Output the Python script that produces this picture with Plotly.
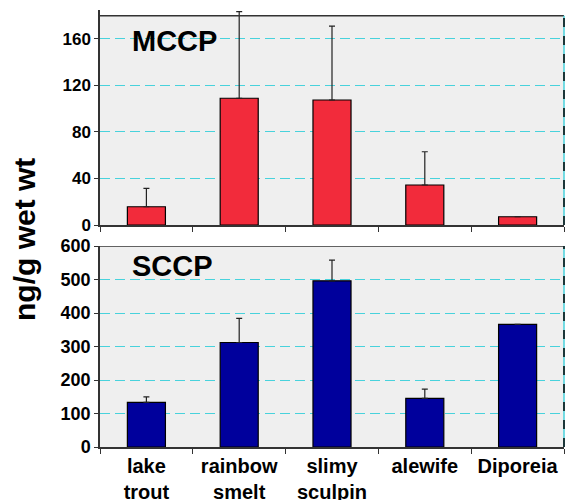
import plotly.graph_objects as go

categories = ["lake<br>trout", "rainbow<br>smelt", "slimy<br>sculpin", "alewife", "Diporeia"]
mccp_values = [15.7, 109, 107.5, 34.4, 7.1]
mccp_errors = [15.8, 74.5, 63.5, 28.6, 0]
sccp_values = [133, 312, 496, 145, 366]
sccp_errors = [16.5, 72, 62, 28, 0]
mccp_ticks = [0, 40, 80, 120, 160]
sccp_ticks = [0, 100, 200, 300, 400, 500, 600]

OFF = 8  # default page body margin
W, H = 579 - OFF, 500 - OFF
FONT = "Arial, Liberation Sans, sans-serif"

def px(v):
    return (v - OFF) / W

def py(v):
    return 1 - (v - OFF) / H

fig = go.Figure()

def bar(vals, errs, color, xa, ya):
    return go.Bar(
        x=categories, y=vals, xaxis=xa, yaxis=ya,
        marker=dict(color=color, line=dict(color="black", width=1.2)),
        width=0.41, cliponaxis=False,
        error_y=dict(type="data", array=errs, arrayminus=[0] * len(errs),
                     symmetric=False, visible=True, color="#222222",
                     thickness=1.2, width=3),
        showlegend=False, hoverinfo="skip",
    )

fig.add_trace(bar(mccp_values, mccp_errors, "#F22B3B", "x", "y"))
fig.add_trace(bar(sccp_values, sccp_errors, "#00009C", "x2", "y2"))

x0, x1 = px(100), px(564)
top_dom = [py(225), py(9.9)]
bot_dom = [py(447), py(246)]
GRID = "#48d2dc"
LINE = "#333333"

xcommon = dict(
    domain=[x0, x1], type="category", tickson="boundaries", ticks="outside",
    ticklen=5, tickcolor=LINE, showline=True, linecolor=LINE, linewidth=1.5,
    showgrid=False, automargin=False, fixedrange=True,
    tickfont=dict(family=FONT, size=20, color="black", weight="bold"),
)
ycommon = dict(
    ticks="outside", ticklen=4, tickcolor=LINE, showline=True,
    linecolor=LINE, linewidth=1.5, showgrid=True, gridcolor=GRID,
    griddash="10px,5px", gridwidth=1.3, zeroline=False, automargin=False,
    fixedrange=True,
)

fig.update_layout(
    width=W, height=H, template="none",
    margin=dict(l=0, r=0, t=0, b=0),
    paper_bgcolor="white", plot_bgcolor="white",
    bargap=0.59,
    xaxis=dict(xcommon, anchor="y", showticklabels=False),
    yaxis=dict(ycommon, domain=top_dom, anchor="x", range=[0, 185],
               tickvals=mccp_ticks,
               tickfont=dict(family=FONT, size=17, color="black", weight="bold")),
    xaxis2=dict(xcommon, anchor="y2", showticklabels=True),
    yaxis2=dict(ycommon, domain=bot_dom, anchor="x2", range=[0, 600],
                tickvals=sccp_ticks,
                tickfont=dict(family=FONT, size=18, color="black", weight="bold")),
)

# panel backgrounds and borders
panels = [("x", "y", 180), ("x2", "y2", 600)]
for xa, ya, top in panels:
    fig.add_shape(type="rect", xref=f"{xa} domain", yref=ya, x0=0, x1=1, y0=0, y1=top,
                  fillcolor="#EFEFEF", line=dict(width=0), layer="below")
    fig.add_shape(type="line", xref=f"{xa} domain", yref=ya, x0=0, x1=1, y0=top, y1=top,
                  line=dict(color=LINE, width=1.5))
    fig.add_shape(type="line", xref=f"{xa} domain", yref=ya, x0=1, x1=1, y0=0, y1=top,
                  line=dict(color=GRID, width=1.5))
    fig.add_shape(type="line", xref=f"{xa} domain", yref=ya, x0=1, x1=1, y0=0, y1=top,
                  line=dict(color="black", width=1.5, dash="dash"))

fig.add_annotation(text="MCCP", xref="paper", yref="paper", x=px(130), y=py(41),
                   xanchor="left", yanchor="middle", showarrow=False,
                   font=dict(family=FONT, size=29, color="black", weight="bold"))
fig.add_annotation(text="SCCP", xref="paper", yref="paper", x=px(130), y=py(266),
                   xanchor="left", yanchor="middle", showarrow=False,
                   font=dict(family=FONT, size=29, color="black", weight="bold"))
fig.add_annotation(text="ng/g wet wt", xref="paper", yref="paper", x=px(24), y=py(240),
                   xanchor="center", yanchor="middle", showarrow=False, textangle=-90,
                   font=dict(family=FONT, size=30, color="black", weight="bold"))

fig.write_html("out.html")
